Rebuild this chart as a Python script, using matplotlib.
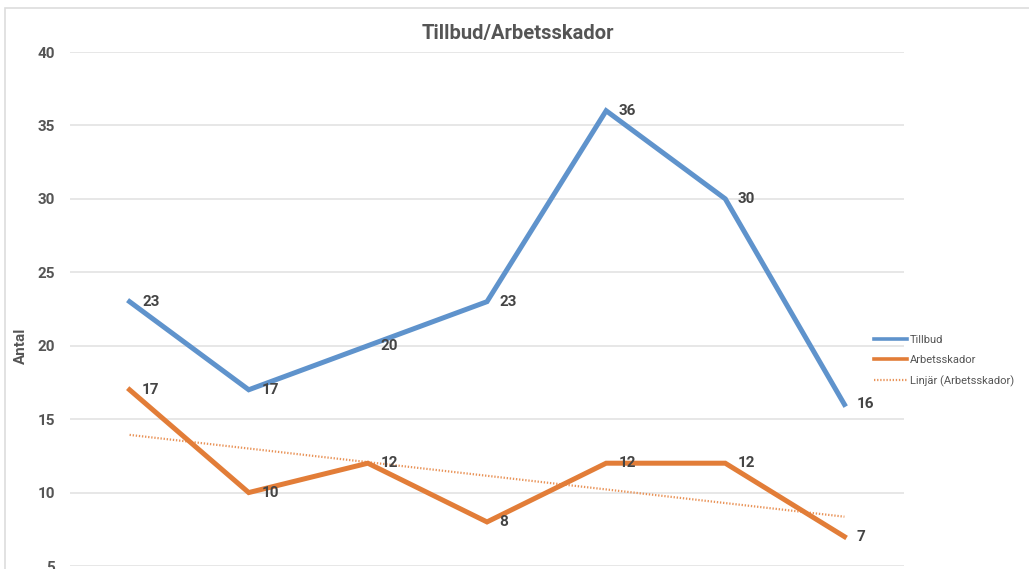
import numpy as np
import matplotlib
matplotlib.use("Agg")
import matplotlib.pyplot as plt
from matplotlib.patches import Rectangle

plt.rcParams['font.family'] = ['Roboto', 'DejaVu Sans']

title = "Tillbud/Arbetsskador"
ylabel = "Antal"
categories = ["1", "2", "3", "4", "5", "6", "7"]
tillbud = [23, 17, 20, 23, 36, 30, 16]
arbetsskador = [17, 10, 12, 8, 12, 12, 7]
yticks = [5, 10, 15, 20, 25, 30, 35, 40]

blue = "#5f93cc"
orange = "#e27d38"
textc = "#444444"
grayc = "#555555"

W, H = 1029, 569
fig = plt.figure(figsize=(W / 100, H / 100), dpi=100)
fig.patch.set_facecolor("white")
fig.patches.append(Rectangle((5 / W, -0.1), 1.2, 1 - 8 / H + 0.1,
                             transform=fig.transFigure, fill=False,
                             edgecolor="#dddddd", lw=1.2))

ax = fig.add_axes([70 / W, 1 - 566 / H, (904 - 70) / W, (566 - 52) / H])
x = np.arange(len(categories))

ax.plot(x, tillbud, color=blue, lw=3.6, solid_joinstyle="miter", label="Tillbud", zorder=3)
ax.plot(x, arbetsskador, color=orange, lw=3.6, solid_joinstyle="miter", label="Arbetsskador", zorder=3)
coef = np.polyfit(x, arbetsskador, 1)
ax.plot(x, np.polyval(coef, x), color="#e99358", lw=1.6, ls=(0, (0.6, 0.8)),
        label="Linjär (Arbetsskador)", zorder=2)

for xi, v in zip(x, tillbud):
    ax.annotate(str(v), (xi, v), xytext=(9, 0), textcoords="offset points",
                ha="left", va="center", fontsize=11, fontweight="bold", color=textc, zorder=4)
for xi, v in zip(x, arbetsskador):
    ax.annotate(str(v), (xi, v), xytext=(9, 0), textcoords="offset points",
                ha="left", va="center", fontsize=11, fontweight="bold", color=textc, zorder=4)

ax.set_xlim(-0.5, len(categories) - 0.5)
ax.set_ylim(5, 40)
ax.set_yticks(yticks)
ax.set_xticks([])
ax.grid(axis="y", color="#e3e3e3", lw=1.2)
ax.set_axisbelow(True)
for s in ax.spines.values():
    s.set_visible(False)
ax.tick_params(axis="y", length=0, pad=11, labelsize=11, labelcolor=grayc)
for lab in ax.get_yticklabels():
    lab.set_fontweight("bold")
fig.text(21 / W, 1 - 346 / H, ylabel, fontsize=11, fontweight="bold", color=grayc,
         rotation=90, ha="center", va="center")
fig.text(518 / W, 1 - 33 / H, title, fontsize=14.5, fontweight="bold", color=grayc,
         ha="center", va="center")

leg = ax.legend(loc="center left", bbox_to_anchor=(864 / W, 1 - 361 / H),
                bbox_transform=fig.transFigure, frameon=False, fontsize=8,
                handlelength=3.0, handletextpad=0.2, labelspacing=0.9,
                labelcolor=grayc)
for ln in leg.get_lines()[:2]:
    ln.set_linewidth(2.6)

fig.savefig("out.png", dpi=100, facecolor="white")
